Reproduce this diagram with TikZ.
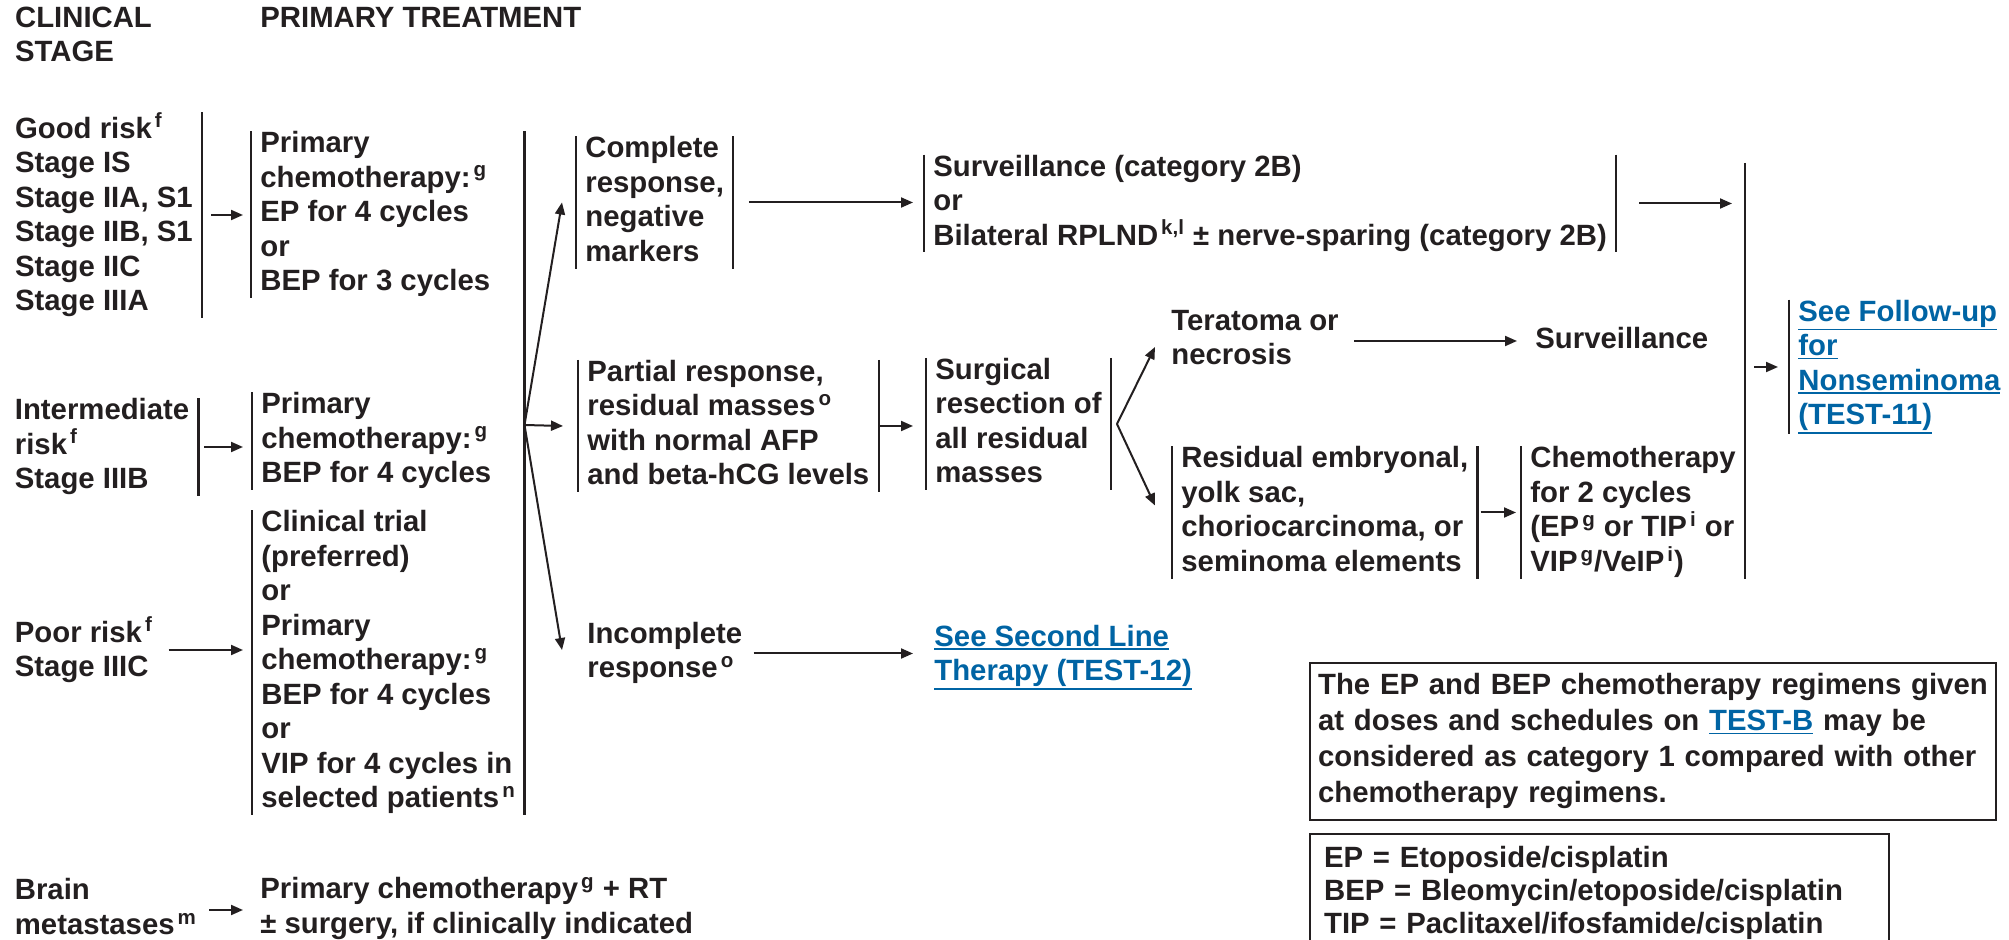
\documentclass[tikz,border=0pt]{standalone}
\usepackage{fontspec}
\setmainfont{Liberation Sans}
\usetikzlibrary{arrows.meta}
\definecolor{linkblue}{RGB}{0,100,164}
\definecolor{inkgray}{RGB}{35,31,32}
\newcommand\dfont{\fontsize{14.66pt}{17.25pt}\selectfont\bfseries\lineskiplimit=-\maxdimen}
\newcommand\nfont{\fontsize{14.66pt}{18pt}\selectfont\bfseries\lineskiplimit=-\maxdimen}
\newcommand\afont{\fontsize{14.66pt}{16.5pt}\selectfont\bfseries\lineskiplimit=-\maxdimen}
\newcommand\lstrut{\rule[-3.4pt]{0pt}{13.85pt}}
\newcommand\fnm[1]{\textsuperscript{\kern1.5pt#1}}
\newcommand\lnk[1]{{\color{linkblue}\setbox0\hbox{#1}\rlap{\rule[\dimexpr-\dp0-1.5pt\relax]{\wd0}{0.75pt}}\box0}}
\tikzset{
    txt/.style={
        anchor=west,
        align=left,
        inner xsep=4.5pt,
        inner ysep=0pt,
        text=inkgray,
        font=\dfont,
        execute at begin node=\lstrut,
        execute at end node=\lstrut
    },
    infobox/.style={txt, draw=inkgray, line width=1.1pt},
    bar/.style={draw=inkgray, line width=1.15pt},
    arr/.style={draw=inkgray, line width=1pt, -{Triangle[length=6pt,width=5pt]}}
}
\begin{document}
\begin{tikzpicture}[x=0.5pt, y=-0.5pt]
    \useasboundingbox (0,0) rectangle (2009,940);

    % Headings
    \node[txt] (clin) at (5.7,37.5) {CLINICAL\\STAGE};
    \node[txt] (ptreat) at (251,20) {PRIMARY TREATMENT};

    % Clinical stage
    \node[txt] (good) at (5.7,215) {Good risk\fnm{f}\\Stage IS\\Stage IIA, S1\\Stage IIB, S1\\Stage IIC\\Stage IIIA};
    \node[txt] (interm) at (5.5,447) {Intermediate\\risk\fnm{f}\\Stage IIIB};
    \node[txt] (poor) at (5.5,650) {Poor risk\fnm{f}\\Stage IIIC};
    \node[txt] (brain) at (5.5,910) {Brain\\metastases\fnm{m}};

    % Primary treatment
    \node[txt] (prim1) at (251,214.5) {Primary\\chemotherapy:\fnm{g}\\EP for 4 cycles\\or\\BEP for 3 cycles};
    \node[txt] (prim2) at (252,441) {Primary\\chemotherapy:\fnm{g}\\BEP for 4 cycles};
    \node[txt] (prim3) at (252,662.5) {Clinical trial\\(preferred)\\or\\Primary\\chemotherapy:\fnm{g}\\BEP for 4 cycles\\or\\VIP for 4 cycles in\\selected patients\fnm{n}};
    \node[txt] (prim4) at (251,908.5) {Primary chemotherapy\fnm{g} + RT\\± surgery, if clinically indicated};

    % Response
    \node[txt] (compl) at (576,202.5) {Complete\\response,\\negative\\markers};
    \node[txt] (partial) at (578,426) {Partial response,\\residual masses\fnm{o}\\with normal AFP\\and beta-hCG levels};
    \node[txt] (incompl) at (578,653.5) {Incomplete\\response\fnm{o}};

    % Further management
    \node[txt] (surv) at (924,203.5) {Surveillance (category 2B)\\or\\Bilateral RPLND\fnm{k,l} ± nerve-sparing (category 2B)};
    \node[txt] (surg) at (926,424) {Surgical\\resection of\\all residual\\masses};
    \node[txt] (second) at (925,657.5) {\lnk{See Second Line}\\\lnk{Therapy (TEST-12)}};
    \node[txt] (terat) at (1162,341) {Teratoma or\\necrosis};
    \node[txt] (survl) at (1526,341) {Surveillance};
    \node[txt] (resid) at (1172,512.5) {Residual embryonal,\\yolk sac,\\choriocarcinoma, or\\seminoma elements};
    \node[txt] (chemo) at (1521,512.5) {Chemotherapy\\for 2 cycles\\(EP\fnm{g} or TIP\fnm{i} or\\VIP\fnm{g}/VeIP\fnm{i})};
    \node[txt] (follow) at (1789,367) {\lnk{See Follow-up}\\\lnk{for}\\\lnk{Nonseminoma}\\\lnk{(TEST-11)}};

    % Notes
    \node[infobox, font=\nfont, text width=335pt, inner xsep=4pt, minimum height=78.5pt] (note) at (1309,741.5)
        {The EP and BEP chemotherapy regimens given\\at doses and schedules on \lnk{TEST-B} may be\\considered as category 1 compared with other\\chemotherapy regimens.};
    \node[infobox, font=\afont, anchor=north west, text width=275.5pt, inner xsep=7pt, inner ysep=5.9pt] (abbr) at (1309,833)
        {EP = Etoposide/cisplatin\\BEP = Bleomycin/etoposide/cisplatin\\TIP = Paclitaxel/ifosfamide/cisplatin};

    % Bars
    \coordinate (fan1) at (524.5,425);
    \coordinate (rtop) at (1745,163);
    \coordinate (fan2) at ([xshift=3pt]surg.east);
    \foreach \n in {prim1,prim2,prim3,compl,surv,partial,surg,resid,chemo,follow}
        \draw[bar] (\n.north west) -- (\n.south west);
    \foreach \n in {good,interm,compl,surv,partial,surg,resid}
        \draw[bar] (\n.north east) -- (\n.south east);
    \draw[bar] (fan1 |- prim1.north) -- (fan1 |- prim3.south);
    \draw[bar] (rtop) -- (rtop |- chemo.south);

    % Connections
    \draw[arr, shorten <=4.5pt, shorten >=4pt] (good.east) -- (good.east -| prim1.west);
    \draw[arr, shorten <=2.75pt, shorten >=4.5pt] (interm.east) -- (interm.east -| prim2.west);
    \draw[arr, shorten <=3.25pt, shorten >=4.5pt] (poor.east) -- (poor.east -| prim3.west);
    \draw[arr, shorten <=1.5pt, shorten >=4pt] (brain.east) -- (brain.east -| prim4.west);

    \draw[arr] (fan1) -- ([xshift=-7pt]compl.west);
    \draw[arr] (fan1) -- ([xshift=-7.5pt]partial.west);
    \draw[arr] (fan1) -- ([xshift=-8pt,yshift=1.75pt]incompl.west);

    \draw[arr, shorten <=7.75pt, shorten >=5.5pt] (compl.east) -- (compl.east -| surv.west);
    \draw[arr, shorten <=0.5pt, shorten >=6.5pt] (partial.east) -- (partial.east -| surg.west);
    \draw[arr, shorten <=1pt, shorten >=6pt] (incompl.east) -- (incompl.east -| second.west);

    \draw[arr] (fan2) -- ([xshift=-3.5pt,yshift=-3pt]terat.west);
    \draw[arr] (fan2) -- ([xshift=-8.5pt,yshift=3.5pt]resid.west);
    \draw[arr, shorten <=3pt, shorten >=4.5pt] (terat.east) -- (terat.east -| survl.west);
    \draw[arr, shorten <=1.5pt, shorten >=2.5pt] (resid.east) -- (resid.east -| chemo.west);

    \draw[arr, shorten <=11.5pt, shorten >=6.5pt] (surv.east) -- (surv.east -| rtop);
    \draw[arr, shorten <=4.5pt, shorten >=5.5pt] (follow.west -| rtop) -- (follow.west);

\end{tikzpicture}
\end{document}
